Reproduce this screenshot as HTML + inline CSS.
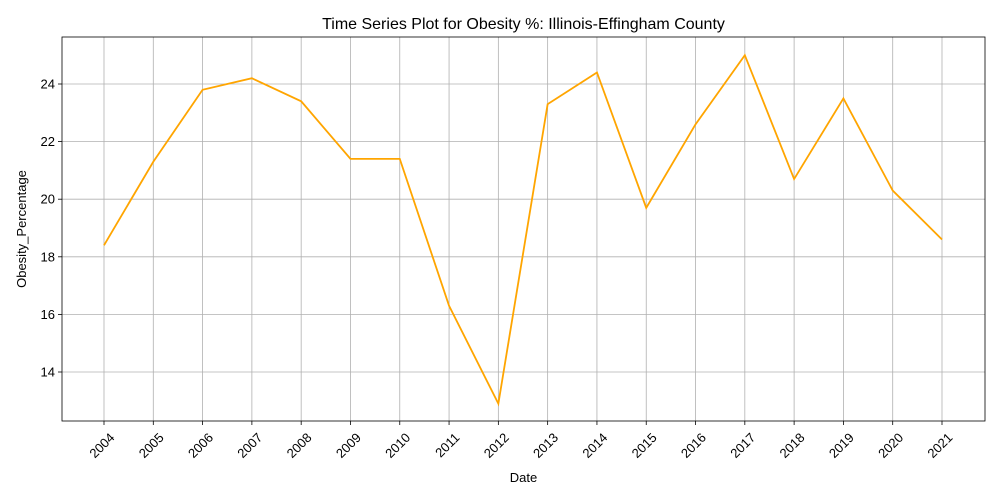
<!DOCTYPE html>
<html><head><meta charset="utf-8"><style>
body{margin:0;background:#fff;}
svg{display:block;font-family:"Liberation Sans","DejaVu Sans",sans-serif;}
</style></head><body>
<svg id="chart" width="1000" height="500"></svg>
<script>
const years = ["2004","2005","2006","2007","2008","2009","2010","2011","2012","2013","2014","2015","2016","2017","2018","2019","2020","2021"];
const values = [18.4,21.3,23.8,24.2,23.4,21.4,21.4,16.3,12.9,23.3,24.4,19.7,22.6,25.0,20.7,23.5,20.3,18.6];
const yTicks = [14,16,18,20,22,24];
const NS="http://www.w3.org/2000/svg";
const svg=document.getElementById('chart');
const L=62,R=985,T=37,B=421;
const x=i=>104+i*(942-104)/(years.length-1);
const y=v=>372-(v-14)*28.8;
function mk(tag,attrs,parent){const e=document.createElementNS(NS,tag);for(const k in attrs)e.setAttribute(k,attrs[k]);(parent||svg).appendChild(e);return e;}
const grid=mk('g',{});


years.forEach((yr,i)=>{
  mk('line',{x1:x(i),x2:x(i),y1:T,y2:B,stroke:'#b0b0b0','stroke-width':0.8},grid);
  mk('line',{x1:x(i),x2:x(i),y1:B,y2:B+4,stroke:'#000','stroke-width':0.8});
  const t=mk('text',{x:0,y:0,'font-size':13,'text-anchor':'end',transform:`translate(${x(i)+4},${B+10}) rotate(-45)`,dy:'0.8em'});
  t.textContent=yr;
  
  
});
yTicks.forEach(v=>{
  mk('line',{x1:L,x2:R,y1:y(v),y2:y(v),stroke:'#b0b0b0','stroke-width':0.8},grid);
  mk('line',{x1:L-4,x2:L,y1:y(v),y2:y(v),stroke:'#000','stroke-width':0.8});
  const t=mk('text',{x:L-7,y:y(v)+4.5,'font-size':13,'text-anchor':'end'});
  t.textContent=v;
  
  
});
const line=mk('polyline',{points:values.map((v,i)=>x(i)+','+y(v)).join(' '),fill:'none',stroke:'#ffa500','stroke-width':1.8});


const frame=mk('rect',{x:L,y:T,width:R-L,height:B-T,fill:'none',stroke:'#000','stroke-width':0.8});


const title=mk('text',{x:(L+R)/2,y:29,'font-size':16,'text-anchor':'middle'});
title.textContent='Time Series Plot for Obesity %: Illinois-Effingham County';


const xt=mk('text',{x:(L+R)/2,y:482,'font-size':13,'text-anchor':'middle'});
xt.textContent='Date';


const yt=mk('text',{x:0,y:0,'font-size':13,'text-anchor':'middle',transform:`translate(26,${(T+B)/2}) rotate(-90)`});
yt.textContent='Obesity_Percentage';


</script>
</body></html>
